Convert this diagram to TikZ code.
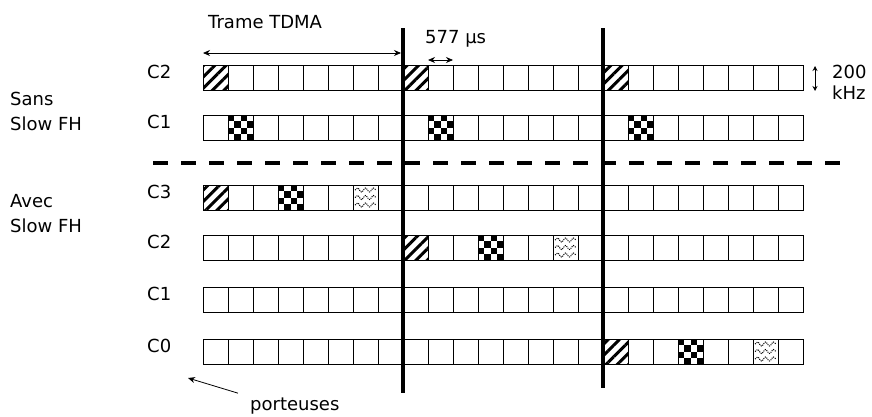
\documentclass[tikz,border=0pt]{standalone}
\usepackage{fontspec}
\setmainfont{DejaVu Sans}
\usetikzlibrary{arrows.meta,patterns.meta,decorations.pathmorphing}

\tikzset{
  slotbox/.style={draw, line width=0.9pt},
  framebar/.style={line width=3.5pt},
  dimarrow/.style={{Stealth[length=7pt,width=6pt]}-{Stealth[length=7pt,width=6pt]}, line width=0.8pt},
  txt/.style={font=\fontsize{18}{22}\selectfont, inner sep=0pt},
}

% slot x position from its index
\newcommand{\slotx}[1]{203+25*#1}

% hatched slot
\newcommand{\hatchslot}[2]{%
  \fill[pattern={Lines[angle=45,distance=8pt,line width=3pt]}]
    ({\slotx{#1}},#2) rectangle +(25,25);}

% checkered slot
\newcommand{\checkslot}[2]{%
  \foreach \a/\b in {0/0,2/0,1/1,3/1,0/2,2/2,1/3,3/3}
    \fill ({\slotx{#1}+6.25*\a},{#2+6.25*\b}) rectangle +(6.25,6.25);}

% wavy slot
\newcommand{\waveslot}[2]{%
  \foreach \k in {5,12.5,20}
    \draw[densely dotted, line width=1pt, decorate,
      decoration={snake,amplitude=2pt,segment length=8pt}]
      ({\slotx{#1}+2},{#2+\k}) -- +(21,0);}

\begin{document}
\begin{tikzpicture}[x=1pt,y=-1pt]

  \useasboundingbox (0,0) rectangle (872,416);

  % Sans Slow FH
  \hatchslot{0}{65} \hatchslot{8}{65} \hatchslot{16}{65}
  \checkslot{1}{115} \checkslot{9}{115} \checkslot{17}{115}

  % Avec Slow FH
  \hatchslot{0}{185} \checkslot{3}{185} \waveslot{6}{185}
  \hatchslot{8}{235} \checkslot{11}{235} \waveslot{14}{235}
  \hatchslot{16}{339} \checkslot{19}{339} \waveslot{22}{339}

  % Rows of slots and carrier labels
  \foreach \y/\c [count=\r] in {65/C2,115/C1,185/C3,235/C2,287/C1,339/C0} {
    \foreach \i in {0,...,23}
      \draw[slotbox] ({\slotx{\i}},\y) rectangle +(25,25);
    \node[txt, anchor=base west] (lab\r) at (147,\y+13) {\c};
  }

  % Frame limits
  \draw[framebar] (403,28) -- (403,393);
  \draw[framebar] (603,28) -- (603,388);

  % Separator
  \draw[line width=3.5pt, dash pattern=on 15pt off 13pt] (153,163) -- (840,163);

  % Side texts
  \node[txt, anchor=base west] (sans)  at (10,105) {Sans};
  \node[txt, anchor=base west] (sans2) at (10,130) {Slow FH};
  \node[txt, anchor=base west] (avec)  at (10,207) {Avec};
  \node[txt, anchor=base west] (avec2) at (10,232) {Slow FH};

  % Frame length
  \node[txt, anchor=base west] (trame) at (208,28) {Trame TDMA};
  \coordinate (tl) at (203,53);
  \coordinate (tr) at (401,53);
  \draw[dimarrow] (tl) -- (tr);

  % Slot length
  \node[txt, anchor=base west] (duree) at (425,43) {577 µs};
  \coordinate (dl) at (428,60);
  \coordinate (dr) at (453,60);
  \draw[dimarrow] (dl) -- (dr);

  % Carrier spacing
  \node[txt, anchor=base west] (bw1) at (832,78) {200};
  \node[txt, anchor=base west] (bw2) at (832,99) {kHz};
  \coordinate (bt) at (815,66);
  \coordinate (bb) at (815,91);
  \draw[{Stealth[length=5pt,width=5pt]}-{Stealth[length=5pt,width=5pt]}, line width=0.8pt] (bt) -- (bb);

  % Carriers
  \node[txt, anchor=base west] (port) at (250,410) {porteuses};
  \coordinate (pa) at (188,378);
  \draw[-{Stealth[length=7pt,width=6pt]}, line width=0.8pt] (port.north west) ++(-12,-4) -- (pa);

\end{tikzpicture}
\end{document}
